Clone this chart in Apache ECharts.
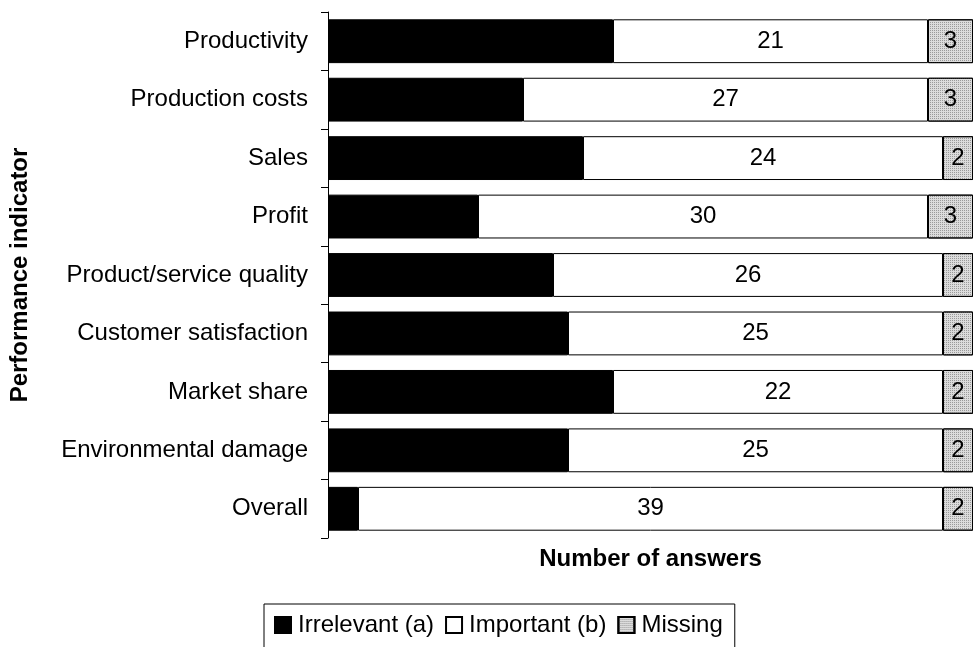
<!DOCTYPE html>
<html>
<head>
<meta charset="utf-8">
<script src="https://cdn.jsdelivr.net/npm/echarts@6/dist/echarts.min.js"></script>
<style>
  html, body { margin: 0; padding: 0; background: #fff; }
  #chart { width: 973px; height: 647px; }
</style>
</head>
<body>
<div id="chart"></div>
<script>
// Performance indicators, answers per category (top to bottom)
const categories = [
  'Productivity',
  'Production costs',
  'Sales',
  'Profit',
  'Product/service quality',
  'Customer satisfaction',
  'Market share',
  'Environmental damage',
  'Overall'
];
const irrelevant = [19, 13, 17, 10, 15, 16, 19, 16, 2];
const important  = [21, 27, 24, 30, 26, 25, 22, 25, 39];
const missing    = [3, 3, 2, 3, 2, 2, 2, 2, 2];
const totalAnswers = 43;

const FONT = '"Liberation Sans", Arial, sans-serif';
const FS = 24;

const chart = echarts.init(document.getElementById('chart'), null, { renderer: 'canvas' });

const valueLabel = {
  show: true,
  position: 'inside',
  color: '#000',
  fontFamily: FONT,
  fontSize: FS
};

chart.setOption({
  animation: false,
  backgroundColor: '#fff',
  grid: { left: 326, top: 12, width: 647, height: 526, containLabel: false },
  xAxis: {
    type: 'value',
    min: 0,
    max: totalAnswers,
    axisLine: { show: false },
    axisTick: { show: false },
    axisLabel: { show: false },
    splitLine: { show: false },
    name: 'Number of answers',
    nameLocation: 'middle',
    nameGap: 9,
    nameTextStyle: { fontFamily: FONT, fontSize: FS, fontWeight: 'bold', color: '#000' }
  },
  yAxis: {
    type: 'category',
    data: categories,
    inverse: true,
    axisLine: { show: true, lineStyle: { color: '#000', width: 1 } },
    axisTick: { show: true, length: 7, lineStyle: { color: '#000' } },
    axisLabel: { margin: 20, color: '#000', fontFamily: FONT, fontSize: FS },
    name: 'Performance indicator',
    nameLocation: 'middle',
    nameRotate: 90,
    nameGap: 296,
    nameTextStyle: { fontFamily: FONT, fontSize: FS, fontWeight: 'bold', color: '#000' }
  },
  legend: {
    left: 264,
    top: 604,
    selectedMode: false,
    icon: 'rect',
    itemWidth: 16,
    itemHeight: 16,
    itemGap: 11,
    padding: [9, 12, 30, 10],
    borderColor: '#000',
    borderWidth: 1,
    textStyle: { fontFamily: FONT, fontSize: FS, color: '#000', padding: [0, 0, 0, 2] },
    data: ['Irrelevant (a)', 'Important (b)', 'Missing']
  },
  series: [
    {
      name: 'Irrelevant (a)',
      type: 'bar',
      stack: 'answers',
      barCategoryGap: '25%',
      data: irrelevant,
      itemStyle: { color: '#000', borderColor: '#000', borderWidth: 1 }
    },
    {
      name: 'Important (b)',
      type: 'bar',
      stack: 'answers',
      data: important,
      label: valueLabel,
      itemStyle: { color: '#fff', borderColor: '#000', borderWidth: 1 }
    },
    {
      name: 'Missing',
      type: 'bar',
      stack: 'answers',
      data: missing,
      label: valueLabel,
      itemStyle: {
        color: '#dcdcdc',
        borderColor: '#000',
        borderWidth: 1,
        decal: {
          symbol: 'rect',
          symbolSize: 1,
          color: '#9a9a9a',
          dashArrayX: [1, 1],
          dashArrayY: [1, 1],
          rotation: 0
        }
      }
    }
  ]
});
</script>
</body>
</html>
